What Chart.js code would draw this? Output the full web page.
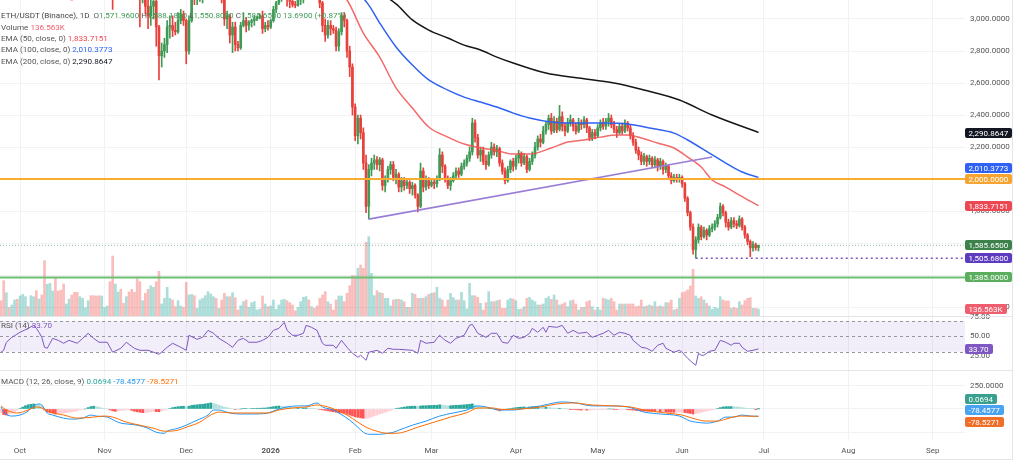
<!DOCTYPE html>
<html>
<head>
<meta charset="utf-8">
<script src="https://cdn.jsdelivr.net/npm/chart.js@4.4.1/dist/chart.umd.min.js"></script>
<style>
  html, body { margin:0; padding:0; background:#fff; }
  body { width:1024px; height:471px; position:relative; overflow:hidden; font-family: Roboto, "Open Sans", sans-serif; }
  canvas { position:absolute; left:0; }
  #cPrice { top:0; }
  #cRsi { top:306px; }
  #cMacd { top:370px; }
  .lg { position:absolute; left:1px; font-size:8.1px; color:#555; white-space:nowrap; line-height:10px; z-index:5; }
  .sep { position:absolute; background:#e3e5ea; z-index:4; }
</style>
</head>
<body>
<canvas id="cPrice" width="1024" height="316"></canvas>
<canvas id="cRsi" width="1024" height="64"></canvas>
<canvas id="cMacd" width="1024" height="101"></canvas>
<div class="sep" style="left:0;top:316px;width:1012px;height:1px"></div>
<div class="sep" style="left:0;top:370px;width:1012px;height:1px"></div>
<div class="sep" style="left:0;top:459px;width:1013px;height:1px"></div>
<div class="sep" style="left:1012px;top:0;width:1px;height:460px"></div>
<div class="lg" id="lgMain" style="top:10px"></div>
<div class="lg" id="lgVol" style="top:22px"></div>
<div class="lg" id="lgE50" style="top:33px"></div>
<div class="lg" id="lgE100" style="top:44px"></div>
<div class="lg" id="lgE200" style="top:56px"></div>
<div class="lg" id="lgRsi" style="top:320px"></div>
<div class="lg" id="lgMacd" style="top:376px"></div>
<script>
// ---------------- DATA ----------------
// day index: 0 = 1 Oct 2025, daily candles from day -7 (24 Sep 2025) to day 271 (29 Jun 2026)
const firstDay = -7;
const prevClose = 4200;
const closes = [
 4150,3870,4030,4010,4140,4220,4145,
 4350,4485,4515,4490,4515,4690,4455,4525,4370,3830,
 3880,4150,4245,4125,3985,3890,3830,3890,3985,3980,
 3875,3800,3855,3935,3950,4160,4120,3980,3900,3710,
 3850,3880,3905,3600,3285,3410,3440,3315,3290,3445,
 3400,3380,3330,3230,3120,3170,3080,3020,3080,3110,
 2950,2770,2800,2840,2950,2960,2930,2920,2990,3030,
 2990,2800,2990,3150,3135,3150,3160,3180,3200,3320,
 3330,3350,3240,3260,3120,3000,3020,2900,2950,2840,
 2820,2960,2990,2960,2980,2990,3000,3010,3020,2940,
 2960,2950,2990,3060,3100,3130,3200,3270,3160,3110,
 3090,3085,3120,3140,3330,3360,3320,3350,3310,3280,
 3100,2960,2900,2960,2940,2930,2830,2920,3020,2990,
 2800,2700,2450,2270,2380,2290,2100,1830,2060,2100,
 2120,2090,2120,1960,2000,2060,2090,2010,2030,1950,
 1990,1960,1980,1940,1960,1900,1830,2050,1950,1990,
 1960,1980,1970,2000,2150,2080,2000,1960,1990,2020,
 2050,2030,2080,2100,2130,2170,2350,2260,2150,2180,
 2110,2090,2150,2200,2170,2190,2100,2050,1990,2060,
 2110,2080,2130,2160,2100,2140,2060,2110,2150,2200,
 2250,2230,2300,2340,2380,2300,2360,2310,2390,2330,
 2300,2350,2370,2330,2300,2350,2340,2370,2320,2260,
 2290,2270,2320,2350,2330,2360,2380,2340,2310,2290,
 2330,2300,2350,2320,2270,2230,2180,2150,2110,2140,
 2110,2130,2090,2120,2080,2110,2060,2080,2020,1990,
 2010,2000,2010,1970,1880,1790,1700,1560,1620,1700,
 1640,1680,1650,1690,1700,1720,1760,1830,1790,1730,
 1700,1740,1720,1710,1750,1700,1650,1610,1570,1590,
 1571.96,1585.65
];
const highs = [
 4230,4160,4060,4050,4170,4240,4230,
 4370,4510,4560,4540,4550,4755,4700,4560,4550,4390,
 3900,4180,4290,4260,4200,4080,3920,3920,4010,4050,
 3990,3900,3880,3960,3970,4200,4250,4140,4030,3920,
 3880,3920,3930,3920,3610,3450,3470,3470,3360,3470,
 3480,3450,3420,3360,3250,3230,3200,3120,3130,3160,
 3120,2960,2850,2880,2990,3020,3020,2980,3040,3060,
 3050,3000,3020,3200,3240,3180,3190,3200,3230,3390,
 3440,3400,3360,3290,3270,3140,3050,3030,2980,2980,
 2860,2980,3040,3010,2990,3000,3020,3020,3030,3050,
 2980,2990,3000,3080,3110,3150,3230,3300,3300,3170,
 3140,3110,3140,3160,3350,3400,3380,3380,3360,3330,
 3290,3110,3000,2990,2990,2960,2950,2940,3040,3040,
 3000,2830,2720,2470,2400,2400,2320,2150,2090,2130,
 2150,2140,2135,2130,2020,2080,2110,2110,2060,2040,
 2010,2010,2000,1990,1980,1970,1910,2100,2070,2020,
 2010,2000,2000,2020,2190,2170,2090,2020,2010,2040,
 2070,2070,2100,2120,2150,2200,2380,2370,2280,2200,
 2200,2150,2170,2230,2220,2210,2200,2120,2070,2080,
 2120,2130,2150,2180,2170,2160,2150,2130,2170,2230,
 2270,2280,2330,2360,2400,2410,2390,2380,2460,2420,
 2350,2380,2400,2380,2350,2380,2370,2390,2380,2330,
 2310,2310,2340,2370,2380,2380,2410,2400,2360,2330,
 2350,2350,2370,2360,2340,2290,2250,2200,2170,2160,
 2150,2150,2140,2140,2130,2130,2120,2100,2090,2040,
 2030,2030,2030,2020,1980,1890,1800,1720,1640,1720,
 1710,1700,1690,1710,1720,1740,1780,1850,1840,1800,
 1750,1760,1760,1740,1770,1760,1710,1660,1620,1610,
 1600,1588.18
];
const lows = [
 4120,3830,3880,3960,3990,4110,4120,
 4140,4330,4440,4460,4450,4480,4420,4380,4320,3435,
 3670,3870,4080,4040,3930,3850,3690,3800,3870,3920,
 3770,3720,3760,3830,3900,3940,4090,3950,3860,3680,
 3700,3830,3860,3540,3060,3250,3280,3260,3240,3270,
 3380,3340,3300,3170,2950,3100,3030,2940,2960,3000,
 2830,2620,2700,2760,2790,2880,2890,2900,2910,2970,
 2960,2720,2780,2980,3090,3090,3110,3100,3130,3180,
 3300,3280,3200,3200,3100,2960,2940,2850,2790,2800,
 2800,2810,2950,2920,2930,2950,2960,2990,3000,2910,
 2920,2930,2940,2980,3040,3090,3110,3180,3080,3070,
 3075,3070,3080,3090,3100,3300,3290,3300,3290,3200,
 3070,2920,2860,2880,2900,2910,2800,2800,2900,2950,
 2760,2640,2400,2240,2220,2250,2060,1790,1750,2020,
 2060,2060,2050,1930,1920,1980,2030,1990,1970,1920,
 1920,1930,1940,1910,1900,1880,1795,1820,1920,1930,
 1940,1950,1940,1950,1990,2040,1980,1940,1930,1980,
 2000,2010,2020,2060,2080,2110,2150,2230,2130,2110,
 2090,2060,2080,2130,2150,2140,2080,2030,1970,1980,
 2040,2050,2060,2100,2080,2090,2040,2050,2090,2130,
 2180,2200,2220,2280,2310,2280,2290,2290,2300,2300,
 2270,2290,2330,2300,2280,2290,2310,2320,2290,2240,
 2240,2250,2260,2300,2310,2310,2330,2320,2290,2260,
 2280,2280,2290,2300,2250,2210,2160,2120,2090,2090,
 2080,2090,2070,2070,2050,2060,2030,2040,2000,1970,
 1980,1980,1980,1950,1860,1770,1680,1530,1505.68,1600,
 1620,1630,1620,1640,1670,1680,1700,1750,1770,1700,
 1680,1690,1700,1690,1700,1680,1630,1590,1515,1550,
 1555,1550.8
];
// volume in thousands
const volumes = [
 307,707,467,173,220,320,333,
 400,433,387,187,407,387,507,340,420,1107,
 634,654,500,754,500,520,640,240,340,420,
 474,474,387,354,167,307,407,407,400,407,
 400,173,200,687,1200,640,480,534,253,387,
 480,534,474,747,687,307,454,534,607,574,
 687,894,240,354,574,354,320,187,307,200,
 173,674,420,434,407,153,320,354,407,487,
 440,387,354,153,320,454,387,387,467,367,
 120,207,287,320,173,267,287,120,140,400,
 240,187,200,320,133,220,320,333,307,267,
 220,107,173,287,374,387,320,187,153,200,
 354,420,487,287,240,120,320,400,400,287,
 454,607,807,800,954,1020,954,1474,1587,854,
 407,507,467,454,354,354,200,320,333,333,
 320,287,173,173,454,434,354,354,354,387,
 434,454,467,574,354,320,187,320,454,367,
 320,320,474,307,140,654,407,407,374,253,
 120,267,487,287,287,307,320,153,153,320,
 354,340,307,133,140,187,354,374,320,287,
 220,220,240,354,387,333,420,320,220,240,
 267,187,307,320,240,120,173,173,287,307,
 187,120,173,120,354,340,320,354,287,120,
 240,240,240,240,240,240,187,200,320,187,
 200,220,200,287,187,200,187,267,267,320,
 120,140,354,467,487,520,600,934,400,354,
 387,320,253,200,133,173,153,387,320,300,
 300,153,173,153,287,220,307,354,367,153,
 153,136.563
];
const macdHist = [
 -40,-60,-65,-55,-45,-30,-15,
 5,20,35,45,50,54,50,45,35,
 -10,-30,-40,-45,-54,-50,-48,-45,-40,-35,-30,-25,-20,
 -10,-5,0,
 15,25,30,25,20,
 10,5,0,-10,-20,-25,-20,-15,
 -15,-10,-10,-15,
 -25,-30,-35,-40,-38,-35,
 -30,-25,-28,-30,-20,-10,-5,
 5,15,20,25,28,30,25,30,38,42,45,48,50,55,60,65,60,
 50,40,30,20,15,5,0,
 -5,-5,0,5,5,3,5,5,8,8,10,10,
 15,20,25,30,32,30,28,25,20,
 15,10,10,8,10,12,10,8,5,0,-5,
 -10,-15,-20,-25,-30,-35,-40,-42,-45,-55,-65,
 -75,-85,-90,-95,-100,-100,-95,-85,
 -75,-65,-55,-45,-35,-25,-15,-5,5,10,
 15,20,25,28,30,30,28,32,35,35,38,38,40,40,45,42,38,35,35,38,40,40,42,45,48,50,55,45,
 30,20,10,5,5,5,0,-10,-20,-20,
 -10,0,5,10,15,18,20,22,20,22,25,25,25,22,20,20,18,
 12,10,8,8,5,3,0,
 -3,-5,
 -8,-10,-12,-10,-12,-12,-10,-8,-5,-3,-2,-2,
 0,0,-3,-5,-5,-5,-5,-8,-10,-12,
 -15,-18,-20,-22,-24,-25,-26,-28,-28,-30,-30,-32,-34,-35,-36,-36,-35,-35,-38,-42,-48,-54,-50,-42,
 -35,-28,-22,-15,-8,-2,5,
 15,22,25,25,26,25,22,20,15,10,6,3,
 1,-1,0.0694
];

const ema50Days  = [115,120,126,132,138,144,150,157,163,169,175,181,187,195,201,207,213,219,223,228,234,240,245,250,254,259,264,271];
const ema50Vals  = [3190,3119,2912,2762,2570,2444,2325,2262,2219,2195,2178,2156,2156,2194,2231,2244,2262,2275,2275,2256,2225,2194,2137,2075,1994,1950,1900,1833.7151];
const ema100Days = [120,128,132,138,144,150,157,163,169,175,181,187,195,201,213,223,231,240,245,253,259,265,271];
const ema100Vals = [3240,3087,2975,2825,2712,2619,2556,2512,2481,2450,2412,2381,2356,2350,2350,2344,2319,2287,2244,2162,2100,2044,2010.3773];
const ema200Days = [125,138,144,150,157,163,169,175,181,193,205,218,229,242,254,271];
const ema200Vals = [3230,3095,2994,2931,2881,2837,2806,2762,2725,2662,2631,2600,2556,2494,2400,2290.8647];

const rsiDays = [-7,-6,-5,-3,0,3,5,6,7,8,9,10,12,14,16,18,21,23,25,27,29,32,34,37,39,42,44,47,49,51,52,54,56,59,61,62,65,67,69,71,73,76,78,80,82,84,87,89,91,93,95,97,98,100,102,104,105,107,109,111,112,115,116,118,120,122,124,125,127,128,131,133,135,137,139,144,146,147,149,152,153,154,156,158,160,163,165,166,168,171,173,175,177,179,181,183,185,187,188,190,192,193,194,197,199,201,203,205,208,210,212,214,216,218,220,222,224,225,228,230,232,234,236,237,240,242,243,245,247,248,249,250,251,253,255,257,259,261,262,264,265,267,269,271];
const rsiVals = [29.4,31.9,42.3,48.7,55.2,60.3,64.2,60.3,55.2,48.7,35.8,34.5,47.4,44.8,41,44.8,41,47.4,53.9,47.4,42.3,42.3,29.4,34.5,42.3,34.5,31.9,31.9,29.4,26.8,29.4,35.8,41,35.8,31.9,51.3,46.1,48.7,57.7,53.9,47.4,41,35.8,44.8,47.4,42.3,42.3,44.8,48.7,57.7,60.3,68.1,57.7,51.3,51.3,53.9,64.2,61.6,57.7,41,38.4,38.4,34.5,44.8,35.8,28.1,22.9,25.5,19,29.4,31.9,28.1,34.5,33.2,33.2,31.9,28.1,44.8,41,42.3,47.4,51.3,44.8,41,47.4,51.3,64.2,65.5,53.9,48.7,53.9,53.9,42.3,41,51.3,47.4,48.7,53.9,60.3,55.2,61.6,55.2,62.9,61.6,64.2,53.9,57.7,53.9,55.2,48.7,51.3,53.9,57.7,51.3,55.2,53.9,51.3,44.8,35.8,34.5,30.6,38.4,41,34.5,29.4,31.9,29.4,21.6,15.2,12.6,28.1,25.5,25.5,30.6,31.9,44.8,42.3,38.4,41,41,35.8,30.6,31.9,33.70];

const macdDays = [-7,-6,-3,0,3,5,7,8,10,12,16,19,23,26,28,32,35,37,40,43,47,50,53,54,58,61,65,69,71,73,77,81,85,91,94,98,102,105,109,111,115,117,121,124,126,128,132,135,137,139,144,149,154,159,164,168,171,176,181,186,191,196,199,204,210,216,223,229,235,242,246,248,252,256,259,262,265,268,271];
const macdVals = [22,-33,-76,-65,-22,33,54,43,-43,-65,-98,-109,-98,-65,-76,-87,-130,-152,-163,-174,-207,-250,-261,-239,-207,-174,-120,-65,-11,-11,-43,-54,-54,-43,-11,22,33,33,65,22,-11,-43,-120,-196,-250,-272,-272,-261,-250,-228,-174,-130,-76,-43,-11,33,22,-11,-11,11,33,65,76,65,33,33,22,-33,-54,-76,-130,-141,-152,-130,-87,-87,-65,-76,-78.4577];
const sigDays = [-7,-5,-1,3,6,8,11,16,21,27,31,34,39,44,49,53,58,61,66,70,73,78,84,91,95,100,105,109,113,116,120,124,127,131,135,138,146,152,158,164,168,173,177,184,191,197,203,210,218,224,229,237,243,248,252,256,259,264,271];
const sigVals = [33,-11,-43,-11,22,11,-33,-65,-98,-87,-76,-87,-141,-174,-207,-239,-228,-196,-141,-65,-33,-43,-43,-43,-11,11,22,43,22,-11,-65,-141,-196,-239,-261,-261,-196,-141,-87,-40,10,12,-5,0,22,54,65,43,33,22,-11,-43,-65,-109,-130,-130,-109,-76,-78.5271];

// drawn levels
const supportOrange = 2000;
const supportGreen = 1385;
const recentLow = 1505.68;
const recentLowDay = 248;
const trendDays = [128, 254];
const trendVals = [1750, 2138];
const rsiLevels = [70, 50, 30];

// axis ticks
const monthDays = [0,31,61,92,123,151,182,212,243,273,304,335];
const monthLabels = ['Oct','Nov','Dec','2026','Feb','Mar','Apr','May','Jun','Jul','Aug','Sep'];
const priceTicks = [1200,1400,1600,1800,2000,2200,2400,2600,2800,3000];
const rsiTicks = [75,50,25];
const macdTicks = [250,0,-250];

// ---------------- BUILD ----------------
const N = closes.length;
[highs, lows, volumes, macdHist].forEach((a,k)=>{ if (a.length !== N) throw new Error('length mismatch '+k+': '+a.length+' vs '+N); });
if (ema50Days.length!==ema50Vals.length||ema100Days.length!==ema100Vals.length||ema200Days.length!==ema200Vals.length||rsiDays.length!==rsiVals.length||macdDays.length!==macdVals.length||sigDays.length!==sigVals.length) throw new Error('series mismatch');

const days = closes.map((_, i) => firstDay + i);
const opens = closes.map((c, i) => i === 0 ? prevClose : closes[i - 1]);
const isUp = closes.map((c, i) => c >= opens[i]);

const X_MIN = -7.34, X_MAX = 346.8;
const AXIS_W = 59;
const GRID = '#f0f2f5';
const UP = '#3f9a55', DOWN = '#e8403a';
const VUP = 'rgba(38,166,154,0.38)', VDOWN = 'rgba(239,83,80,0.38)';
const fmt4 = v => Number(v).toLocaleString('en-US', { minimumFractionDigits: 4, maximumFractionDigits: 4 });
const pts = (xs, ys) => xs.map((x, i) => ({ x, y: ys[i] }));

Chart.defaults.font.family = 'Roboto';
Chart.defaults.font.size = 8;
Chart.defaults.color = '#555';
Chart.defaults.animation = false;
Chart.defaults.plugins.legend.display = false;
Chart.defaults.plugins.tooltip.enabled = false;

function xAxis(labels) {
  return {
    type: 'linear', min: X_MIN, max: X_MAX, offset: false,
    grid: { color: GRID, drawTicks: false, offset: false },
    border: { display: false },
    afterBuildTicks: s => { s.ticks = monthDays.map(v => ({ value: v })); },
    ticks: labels ? {
      autoSkip: false, maxRotation: 0, padding: 5, color: '#555',
      font: c => ({ family: 'Roboto', size: 8, weight: (c.tick && monthLabels[monthDays.indexOf(c.tick.value)] === '2026') ? 'bold' : 'normal' }),
      callback: v => monthLabels[monthDays.indexOf(v)]
    } : { display: false },
    afterFit: s => { s.height = labels ? 30 : 0; s.paddingLeft = 0; s.paddingRight = 0; }
  };
}
function yAxis(min, max, tickVals, fmt, gridOn) {
  return {
    position: 'right', min, max,
    grid: { display: gridOn, color: GRID, drawTicks: false },
    border: { display: false },
    afterBuildTicks: s => { s.ticks = tickVals.map(v => ({ value: v })); },
    ticks: { padding: 5, color: '#555', font: { family: 'Roboto', size: 8 }, callback: fmt },
    afterFit: s => { s.width = AXIS_W; s.paddingTop = 0; s.paddingBottom = 0; }
  };
}
function line(xs, ys, color, width, order, extra) {
  return Object.assign({ type: 'line', data: pts(xs, ys), borderColor: color, borderWidth: width, pointRadius: 0,
    fill: false, cubicInterpolationMode: 'monotone', order }, extra || {});
}
function tagsPlugin(items) {
  return {
    id: 'valueTags',
    afterDraw(chart) {
      const ctx = chart.ctx, a = chart.chartArea;
      ctx.save();
      ctx.font = '8px Roboto'; ctx.textBaseline = 'middle'; ctx.textAlign = 'left';
      for (const t of items) {
        const y = chart.scales[t.axis].getPixelForValue(t.value) + (t.nudge || 0);
        const w = Math.ceil(ctx.measureText(t.text).width) + 7;
        ctx.fillStyle = t.bg;
        ctx.beginPath();
        if (ctx.roundRect) ctx.roundRect(a.right, Math.round(y - 5), w, 10, 2); else ctx.rect(a.right, Math.round(y - 5), w, 10);
        ctx.fill();
        ctx.fillStyle = '#fff';
        ctx.fillText(t.text, a.right + 3.5, Math.round(y) + 0.5);
      }
      ctx.restore();
    }
  };
}

const last = N - 1;
const lastVol = volumes[last];
const lastE50 = ema50Vals[ema50Vals.length - 1], lastE100 = ema100Vals[ema100Vals.length - 1], lastE200 = ema200Vals[ema200Vals.length - 1];
const lastRsi = rsiVals[rsiVals.length - 1];
const lastMacd = macdVals[macdVals.length - 1], lastSig = sigVals[sigVals.length - 1], lastHist = macdHist[last];

// ---- price pane ----
const VOL_MAX = 6320;
new Chart(document.getElementById('cPrice'), {
  type: 'bar',
  data: { datasets: [
    { type: 'bar', yAxisID: 'yv', data: pts(days, volumes), backgroundColor: isUp.map(u => u ? VUP : VDOWN), barThickness: 2, grouped: false, order: 10 },
    { type: 'bar', yAxisID: 'y', data: days.map((d, i) => ({ x: d, y: [lows[i], highs[i]] })), backgroundColor: isUp.map(u => u ? UP : DOWN), barThickness: 1, grouped: false, order: 6 },
    { type: 'bar', yAxisID: 'y', data: days.map((d, i) => ({ x: d, y: [opens[i], closes[i]] })), backgroundColor: isUp.map(u => u ? UP : DOWN), barThickness: 2, minBarLength: 1, grouped: false, order: 5 },
    line(ema200Days, ema200Vals, '#161616', 1.5, 3, { yAxisID: 'y' }),
    line(ema100Days, ema100Vals, '#2f62f4', 1.5, 3, { yAxisID: 'y' }),
    line(ema50Days, ema50Vals, 'rgba(240,80,80,0.85)', 1.5, 3, { yAxisID: 'y' }),
    line([X_MIN, X_MAX], [supportOrange, supportOrange], '#f8ac30', 2, 1, { yAxisID: 'y', cubicInterpolationMode: 'default' }),
    line([X_MIN, X_MAX], [supportGreen, supportGreen], '#6cbf70', 1.8, 1, { yAxisID: 'y', cubicInterpolationMode: 'default' }),
    line([X_MIN, X_MAX], [closes[last], closes[last]], 'rgba(80,160,110,0.6)', 1, 1, { yAxisID: 'y', borderDash: [1, 2], cubicInterpolationMode: 'default' }),
    line([recentLowDay, X_MAX], [recentLow, recentLow], '#7e57c2', 1.5, 1, { yAxisID: 'y', borderDash: [2, 3], cubicInterpolationMode: 'default' }),
    line(trendDays, trendVals, '#9a7ed6', 1.7, 1, { yAxisID: 'y', cubicInterpolationMode: 'default' })
  ] },
  options: {
    responsive: false, animation: false,
    layout: { padding: 0 },
    scales: {
      x: xAxis(false),
      y: yAxis(1144.4, 3118.7, priceTicks, v => fmt4(v), true),
      yv: { display: false, min: 0, max: VOL_MAX }
    }
  },
  plugins: [tagsPlugin([
    { axis: 'y', value: lastE200, text: fmt4(lastE200), bg: '#131722' },
    { axis: 'y', value: supportOrange, text: fmt4(supportOrange), bg: '#f5a431' },
    { axis: 'y', value: lastE100, text: fmt4(lastE100), bg: '#2f62f4', nudge: -9.5 },
    { axis: 'y', value: lastE50, text: fmt4(lastE50), bg: '#ec4854' },
    { axis: 'y', value: closes[last], text: fmt4(closes[last]), bg: '#3b8149' },
    { axis: 'y', value: recentLow, text: fmt4(recentLow), bg: '#5c3bbf' },
    { axis: 'y', value: supportGreen, text: fmt4(supportGreen), bg: '#5aae5e' },
    { axis: 'yv', value: lastVol, text: lastVol.toFixed(3) + 'K', bg: '#ef5e6e' }
  ])]
});

// ---- RSI pane ----
const rsiBand = {
  id: 'rsiBand',
  beforeDatasetsDraw(chart) {
    const { ctx, chartArea: a } = chart; const y = chart.scales.y;
    const yT = y.getPixelForValue(rsiLevels[0]), yM = y.getPixelForValue(rsiLevels[1]), yB = y.getPixelForValue(rsiLevels[2]);
    ctx.save();
    ctx.fillStyle = 'rgba(126,87,194,0.1)';
    ctx.fillRect(a.left, yT, a.right - a.left, yB - yT);
    ctx.strokeStyle = '#9598a1'; ctx.lineWidth = 1; ctx.setLineDash([3, 3]);
    for (const yy of [yT, yM, yB]) { ctx.beginPath(); ctx.moveTo(a.left, Math.round(yy) + 0.5); ctx.lineTo(a.right, Math.round(yy) + 0.5); ctx.stroke(); }
    ctx.restore();
  }
};
new Chart(document.getElementById('cRsi'), {
  type: 'line',
  data: { datasets: [ line(rsiDays, rsiVals, '#7e57c2', 1, 1, { cubicInterpolationMode: 'default', tension: 0 }) ] },
  options: {
    responsive: false, animation: false,
    layout: { padding: { top: 11, left: 0, right: 0, bottom: 0 } },
    scales: { x: xAxis(false), y: yAxis(6.4, 75, rsiTicks, v => v.toFixed(2), false) }
  },
  plugins: [rsiBand, tagsPlugin([{ axis: 'y', value: lastRsi, text: lastRsi.toFixed(2), bg: '#7e57c2' }])]
});

// ---- MACD pane ----
const histCol = macdHist.map((v, i) => {
  const p = i ? macdHist[i - 1] : v;
  if (v >= 0) return v >= p ? '#26a69a' : '#b2dfdb';
  return v < p ? '#ff5252' : '#ffcdd2';
});
new Chart(document.getElementById('cMacd'), {
  type: 'bar',
  data: { datasets: [
    { type: 'bar', data: pts(days, macdHist), backgroundColor: histCol, barThickness: 2, grouped: false, order: 5 },
    line(macdDays, macdVals, '#2196f3', 1, 2),
    line(sigDays, sigVals, '#ff6d00', 1, 1)
  ] },
  options: {
    responsive: false, animation: false,
    layout: { padding: 0 },
    scales: { x: xAxis(true), y: yAxis(-344, 419, macdTicks, v => v > 0 ? fmt4(v) : (v === 0 ? fmt4(0) : ''), true) }
  },
  plugins: [tagsPlugin([
    { axis: 'y', value: lastHist, text: fmt4(lastHist), bg: '#3aa08e', nudge: -10 },
    { axis: 'y', value: lastMacd, text: fmt4(lastMacd), bg: '#4aa3f0', nudge: -5.8 },
    { axis: 'y', value: lastSig, text: fmt4(lastSig), bg: '#ef6f2a', nudge: 6.2 }
  ])]
});

// ---- legends (text from data) ----
const g = s => '<span style="color:' + UP + '">' + s + '</span>';
const chg = closes[last] - closes[last - 1];
const pct = chg / closes[last - 1] * 100;
document.getElementById('lgMain').innerHTML = '<span style="color:#444">ETH/USDT (Binance), 1D</span>&nbsp; O' + g(fmt4(opens[last])) +
  ' H' + g(fmt4(highs[last])) + ' L' + g(fmt4(lows[last])) + ' C' + g(fmt4(closes[last])) + ' ' + g(chg.toFixed(4) + ' (' + (pct >= 0 ? '+' : '') + pct.toFixed(2) + '%)');
document.getElementById('lgVol').innerHTML = 'Volume <span style="color:#ef5e6e">' + lastVol.toFixed(3) + 'K</span>';
document.getElementById('lgE50').innerHTML = 'EMA (50, close, 0) <span style="color:#ec4854">' + fmt4(lastE50) + '</span>';
document.getElementById('lgE100').innerHTML = 'EMA (100, close, 0) <span style="color:#2f62f4">' + fmt4(lastE100) + '</span>';
document.getElementById('lgE200').innerHTML = 'EMA (200, close, 0) <span style="color:#131722">' + fmt4(lastE200) + '</span>';
document.getElementById('lgRsi').innerHTML = 'RSI (14) <span style="color:#7e57c2">' + lastRsi.toFixed(2) + '</span>';
document.getElementById('lgMacd').innerHTML = 'MACD (12, 26, close, 9) <span style="color:#26a69a">' + fmt4(lastHist) +
  '</span> <span style="color:#2196f3">' + fmt4(lastMacd) + '</span> <span style="color:#ff6d00">' + fmt4(lastSig) + '</span>';
</script>
</body>
</html>
